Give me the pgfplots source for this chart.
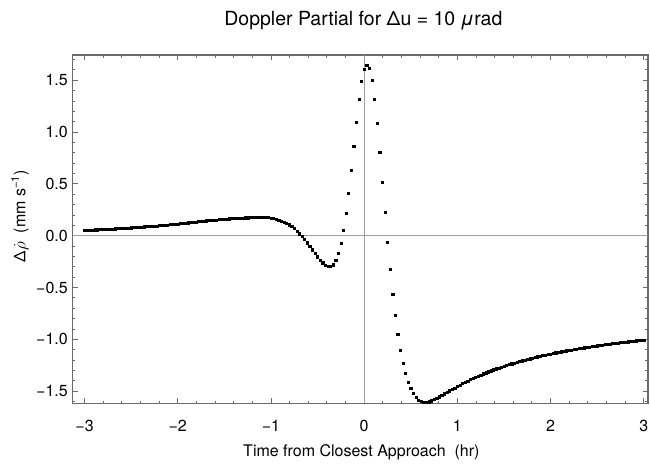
\documentclass[border=0pt]{standalone}
\usepackage{pgfplots}
\pgfplotsset{compat=1.18}
\usepackage{fontspec}
\setmainfont{TeX Gyre Heros}
\definecolor{frameg}{gray}{0.42}
\definecolor{axisg}{gray}{0.62}
\pgfplotstableread{
t v
-3.0000 0.0520
-2.9722 0.0532
-2.9444 0.0544
-2.9167 0.0557
-2.8889 0.0569
-2.8611 0.0581
-2.8333 0.0593
-2.8056 0.0606
-2.7778 0.0618
-2.7500 0.0630
-2.7222 0.0646
-2.6944 0.0661
-2.6667 0.0677
-2.6389 0.0692
-2.6111 0.0708
-2.5833 0.0723
-2.5556 0.0739
-2.5278 0.0754
-2.5000 0.0770
-2.4722 0.0788
-2.4444 0.0806
-2.4167 0.0823
-2.3889 0.0841
-2.3611 0.0859
-2.3333 0.0877
-2.3056 0.0894
-2.2778 0.0912
-2.2500 0.0930
-2.2222 0.0953
-2.1944 0.0977
-2.1667 0.1000
-2.1389 0.1023
-2.1111 0.1047
-2.0833 0.1070
-2.0556 0.1093
-2.0278 0.1117
-2.0000 0.1140
-1.9722 0.1168
-1.9444 0.1196
-1.9167 0.1223
-1.8889 0.1251
-1.8611 0.1279
-1.8333 0.1307
-1.8056 0.1334
-1.7778 0.1362
-1.7500 0.1390
-1.7222 0.1413
-1.6944 0.1437
-1.6667 0.1460
-1.6389 0.1483
-1.6111 0.1507
-1.5833 0.1530
-1.5556 0.1553
-1.5278 0.1577
-1.5000 0.1600
-1.4722 0.1619
-1.4444 0.1637
-1.4167 0.1654
-1.3889 0.1671
-1.3611 0.1687
-1.3333 0.1702
-1.3056 0.1716
-1.2778 0.1729
-1.2500 0.1741
-1.2222 0.1752
-1.1944 0.1761
-1.1667 0.1768
-1.1389 0.1772
-1.1111 0.1773
-1.0833 0.1770
-1.0556 0.1762
-1.0278 0.1745
-1.0000 0.1705
-0.9722 0.1650
-0.9444 0.1585
-0.9167 0.1510
-0.8889 0.1425
-0.8611 0.1325
-0.8333 0.1205
-0.8056 0.1065
-0.7778 0.0900
-0.7500 0.0700
-0.7222 0.0470
-0.6944 0.0200
-0.6667 -0.0080
-0.6389 -0.0370
-0.6111 -0.0680
-0.5833 -0.1020
-0.5556 -0.1360
-0.5278 -0.1700
-0.5000 -0.2020
-0.4722 -0.2340
-0.4444 -0.2610
-0.4167 -0.2810
-0.3889 -0.2940
-0.3611 -0.2960
-0.3333 -0.2800
-0.3056 -0.2400
-0.2778 -0.1700
-0.2500 -0.0740
-0.2222 0.0520
-0.1944 0.2160
-0.1667 0.4080
-0.1389 0.6300
-0.1111 0.8620
-0.0833 1.0940
-0.0556 1.3150
-0.0278 1.4890
0.0000 1.6040
0.0278 1.6460
0.0556 1.6140
0.0833 1.4980
0.1111 1.3150
0.1389 1.0840
0.1667 0.8040
0.1944 0.5150
0.2222 0.2250
0.2500 -0.0640
0.2778 -0.3240
0.3056 -0.5650
0.3333 -0.7680
0.3611 -0.9510
0.3889 -1.1050
0.4167 -1.2300
0.4444 -1.3270
0.4722 -1.4140
0.5000 -1.4720
0.5278 -1.5200
0.5556 -1.5590
0.5833 -1.5850
0.6111 -1.6000
0.6389 -1.6070
0.6667 -1.6070
0.6944 -1.6010
0.7222 -1.5920
0.7500 -1.5800
0.7778 -1.5670
0.8056 -1.5530
0.8333 -1.5390
0.8611 -1.5250
0.8889 -1.5105
0.9167 -1.4960
0.9444 -1.4820
0.9722 -1.4685
1.0000 -1.4548
1.0278 -1.4405
1.0556 -1.4267
1.0833 -1.4134
1.1111 -1.4005
1.1389 -1.3881
1.1667 -1.3761
1.1944 -1.3645
1.2222 -1.3532
1.2500 -1.3424
1.2778 -1.3318
1.3056 -1.3216
1.3333 -1.3117
1.3611 -1.3021
1.3889 -1.2927
1.4167 -1.2837
1.4444 -1.2749
1.4722 -1.2663
1.5000 -1.2580
1.5278 -1.2499
1.5556 -1.2420
1.5833 -1.2344
1.6111 -1.2269
1.6389 -1.2197
1.6667 -1.2126
1.6944 -1.2057
1.7222 -1.1990
1.7500 -1.1924
1.7778 -1.1860
1.8056 -1.1797
1.8333 -1.1736
1.8611 -1.1677
1.8889 -1.1619
1.9167 -1.1562
1.9444 -1.1506
1.9722 -1.1452
2.0000 -1.1399
2.0278 -1.1347
2.0556 -1.1296
2.0833 -1.1247
2.1111 -1.1198
2.1389 -1.1150
2.1667 -1.1104
2.1944 -1.1058
2.2222 -1.1013
2.2500 -1.0970
2.2778 -1.0927
2.3056 -1.0885
2.3333 -1.0843
2.3611 -1.0803
2.3889 -1.0763
2.4167 -1.0724
2.4444 -1.0686
2.4722 -1.0648
2.5000 -1.0612
2.5278 -1.0576
2.5556 -1.0540
2.5833 -1.0505
2.6111 -1.0471
2.6389 -1.0438
2.6667 -1.0405
2.6944 -1.0372
2.7222 -1.0340
2.7500 -1.0309
2.7778 -1.0278
2.8056 -1.0248
2.8333 -1.0218
2.8611 -1.0189
2.8889 -1.0160
2.9167 -1.0132
2.9444 -1.0104
2.9722 -1.0076
3.0000 -1.0049
}\doppler
\begin{document}
\begin{tikzpicture}
\begin{axis}[
  at={(0,0)}, anchor=south west,
  scale only axis, width=575.3pt, height=348.3pt,
  xmin=-3.127, xmax=3.046, ymin=-1.617, ymax=1.743,
  axis line style={draw=frameg, line width=1.1pt},
  tick style={draw=frameg, line width=0.8pt},
  tick align=inside,
  major tick length=5pt, minor tick length=2.8pt,
  xtick={-3,-2,-1,0,1,2,3},
  xticklabels={−3,−2,−1,0,1,2,3},
  minor xtick={-2.8,-2.6,-2.4,-2.2,-1.8,-1.6,-1.4,-1.2,-0.8,-0.6,-0.4,-0.2,0.2,0.4,0.6,0.8,1.2,1.4,1.6,1.8,2.2,2.4,2.6,2.8},
  ytick={-1.5,-1,-0.5,0,0.5,1,1.5},
  yticklabels={−1.5,−1.0,−0.5,0.0,0.5,1.0,1.5},
  minor ytick={-1.6,-1.4,-1.3,-1.2,-1.1,-0.9,-0.8,-0.7,-0.6,-0.4,-0.3,-0.2,-0.1,0.1,0.2,0.3,0.4,0.6,0.7,0.8,0.9,1.1,1.2,1.3,1.4,1.6,1.7},
  ticklabel style={font=\fontsize{16}{19}\selectfont, text=black},
  xticklabel style={inner sep=0pt, yshift=-17pt},
  yticklabel style={inner sep=0pt, xshift=-4.7pt},
  clip=false,
]
\draw[axisg, line width=1pt] (axis cs:0,-1.617) -- (axis cs:0,1.743);
\draw[axisg, line width=1pt] (axis cs:-3.127,0) -- (axis cs:3.046,0);
\addplot[only marks, mark=square*, mark size=1.1pt, black] table[x=t, y=v] {\doppler};
\path (rel axis cs:0.5,1) ++(3pt,29.3pt) node[anchor=base, font=\fontsize{19.5}{23}\selectfont] {Doppler Partial for Δu = 10 \textit{μ}rad};
\path (rel axis cs:0.5,0) ++(1pt,-53.5pt) node[anchor=base, font=\fontsize{16}{19}\selectfont] {Time from Closest Approach\ \ (hr)};
\path (rel axis cs:0,0) ++(-52.7pt,187.3pt) node[anchor=center, rotate=90, font=\fontsize{16}{19}\selectfont] {Δ\(\dot{\rho}\)\ \ (mm s\textsuperscript{−1})};
\end{axis}
\pgfresetboundingbox
\path[use as bounding box] (-72.7pt,-60.7pt) rectangle (577.3pt,403.3pt);
\end{tikzpicture}
\end{document}
